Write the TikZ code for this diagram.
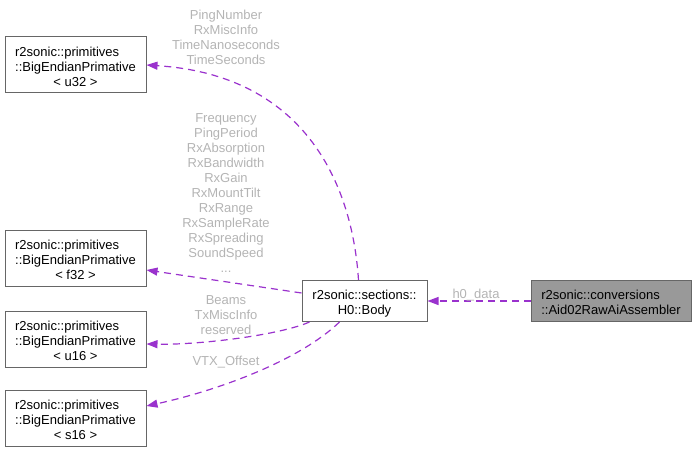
\documentclass[tikz,border=0pt]{standalone}
\usepackage{fontspec}
\setmainfont{Liberation Sans}
\usetikzlibrary{arrows.meta}
\definecolor{edgepurple}{HTML}{9A32CD}
\definecolor{boxborder}{HTML}{666666}
\definecolor{lblgray}{HTML}{B4B4B4}
\definecolor{hilite}{HTML}{999999}
\newcommand{\topfix}{\rule{0pt}{17pt}}
\newcommand{\tmpl}[1]{\begin{tabular}{@{}l@{}}\topfix r2sonic::primitives\\::BigEndianPrimative\\\multicolumn{1}{@{}c@{}}{< #1 >}\end{tabular}}
\begin{document}
\begin{tikzpicture}[x=1pt,y=-1pt,
  every node/.style={font=\fontsize{13}{15}\selectfont, inner sep=0pt},
  cls/.style={draw=boxborder, line width=1pt, fill=white, align=center, minimum width=#1},
  focus/.style={draw=boxborder, line width=1pt, fill=hilite, align=center, minimum width=160pt, minimum height=41pt},
  rel/.style={draw=edgepurple, line width=1.2pt, dash pattern=on 7pt off 5pt, -{Triangle[length=11pt,width=8pt,fill=edgepurple]}},
  lbl/.style={text=lblgray, align=center}
]
\useasboundingbox (0,0) rectangle (697,452);

\node[cls=141pt, minimum height=56pt] (u32) at (75.5,65) {\tmpl{u32}};
\node[cls=141pt, minimum height=56pt] (f32) at (75.5,258.5) {\tmpl{f32}};
\node[cls=141pt, minimum height=56pt] (u16) at (75.5,339) {\tmpl{u16}};
\node[cls=141pt, minimum height=56pt] (s16) at (75.5,418) {\tmpl{s16}};
\node[cls=125pt, minimum height=41pt] (body) at (364.5,301) {\begin{tabular}{@{}c@{}}\topfix r2sonic::sections::\\H0::Body\end{tabular}};
\node[focus] (asm) at (611,301) {\begin{tabular}{@{}l@{}}\topfix r2sonic::conversions\\::Aid02RawAiAssembler\end{tabular}};

% edges
\draw[rel] (asm.west) -- (body.east);
\draw[rel] ([xshift=-6pt]body.north) .. controls (352,180) and (302,75) .. (u32.east);
\draw[rel] ([yshift=8pt]body.west) -- ([yshift=-11.5pt]f32.east);
\draw[rel] ([xshift=8pt]body.south west) .. controls (280,335) and (200,345) .. ([yshift=-5pt]u16.east);
\draw[rel] ([xshift=38pt]body.south west) .. controls (300,360) and (220,390) .. ([yshift=12pt]s16.east);

% labels
\node[lbl] (l0) at (476,295) {h0\_data};
\node[lbl, anchor=north] (l1) at (226,10) {PingNumber\\RxMiscInfo\\TimeNanoseconds\\TimeSeconds};
\node[lbl, anchor=north] (l2) at (226,113) {Frequency\\PingPeriod\\RxAbsorption\\RxBandwidth\\RxGain\\RxMountTilt\\RxRange\\RxSampleRate\\RxSpreading\\SoundSpeed\\...};
\node[lbl, anchor=north] (l3) at (226,295) {Beams\\TxMiscInfo\\reserved};
\node[lbl, anchor=north] (l4) at (226,356) {VTX\_Offset};
\end{tikzpicture}
\end{document}
